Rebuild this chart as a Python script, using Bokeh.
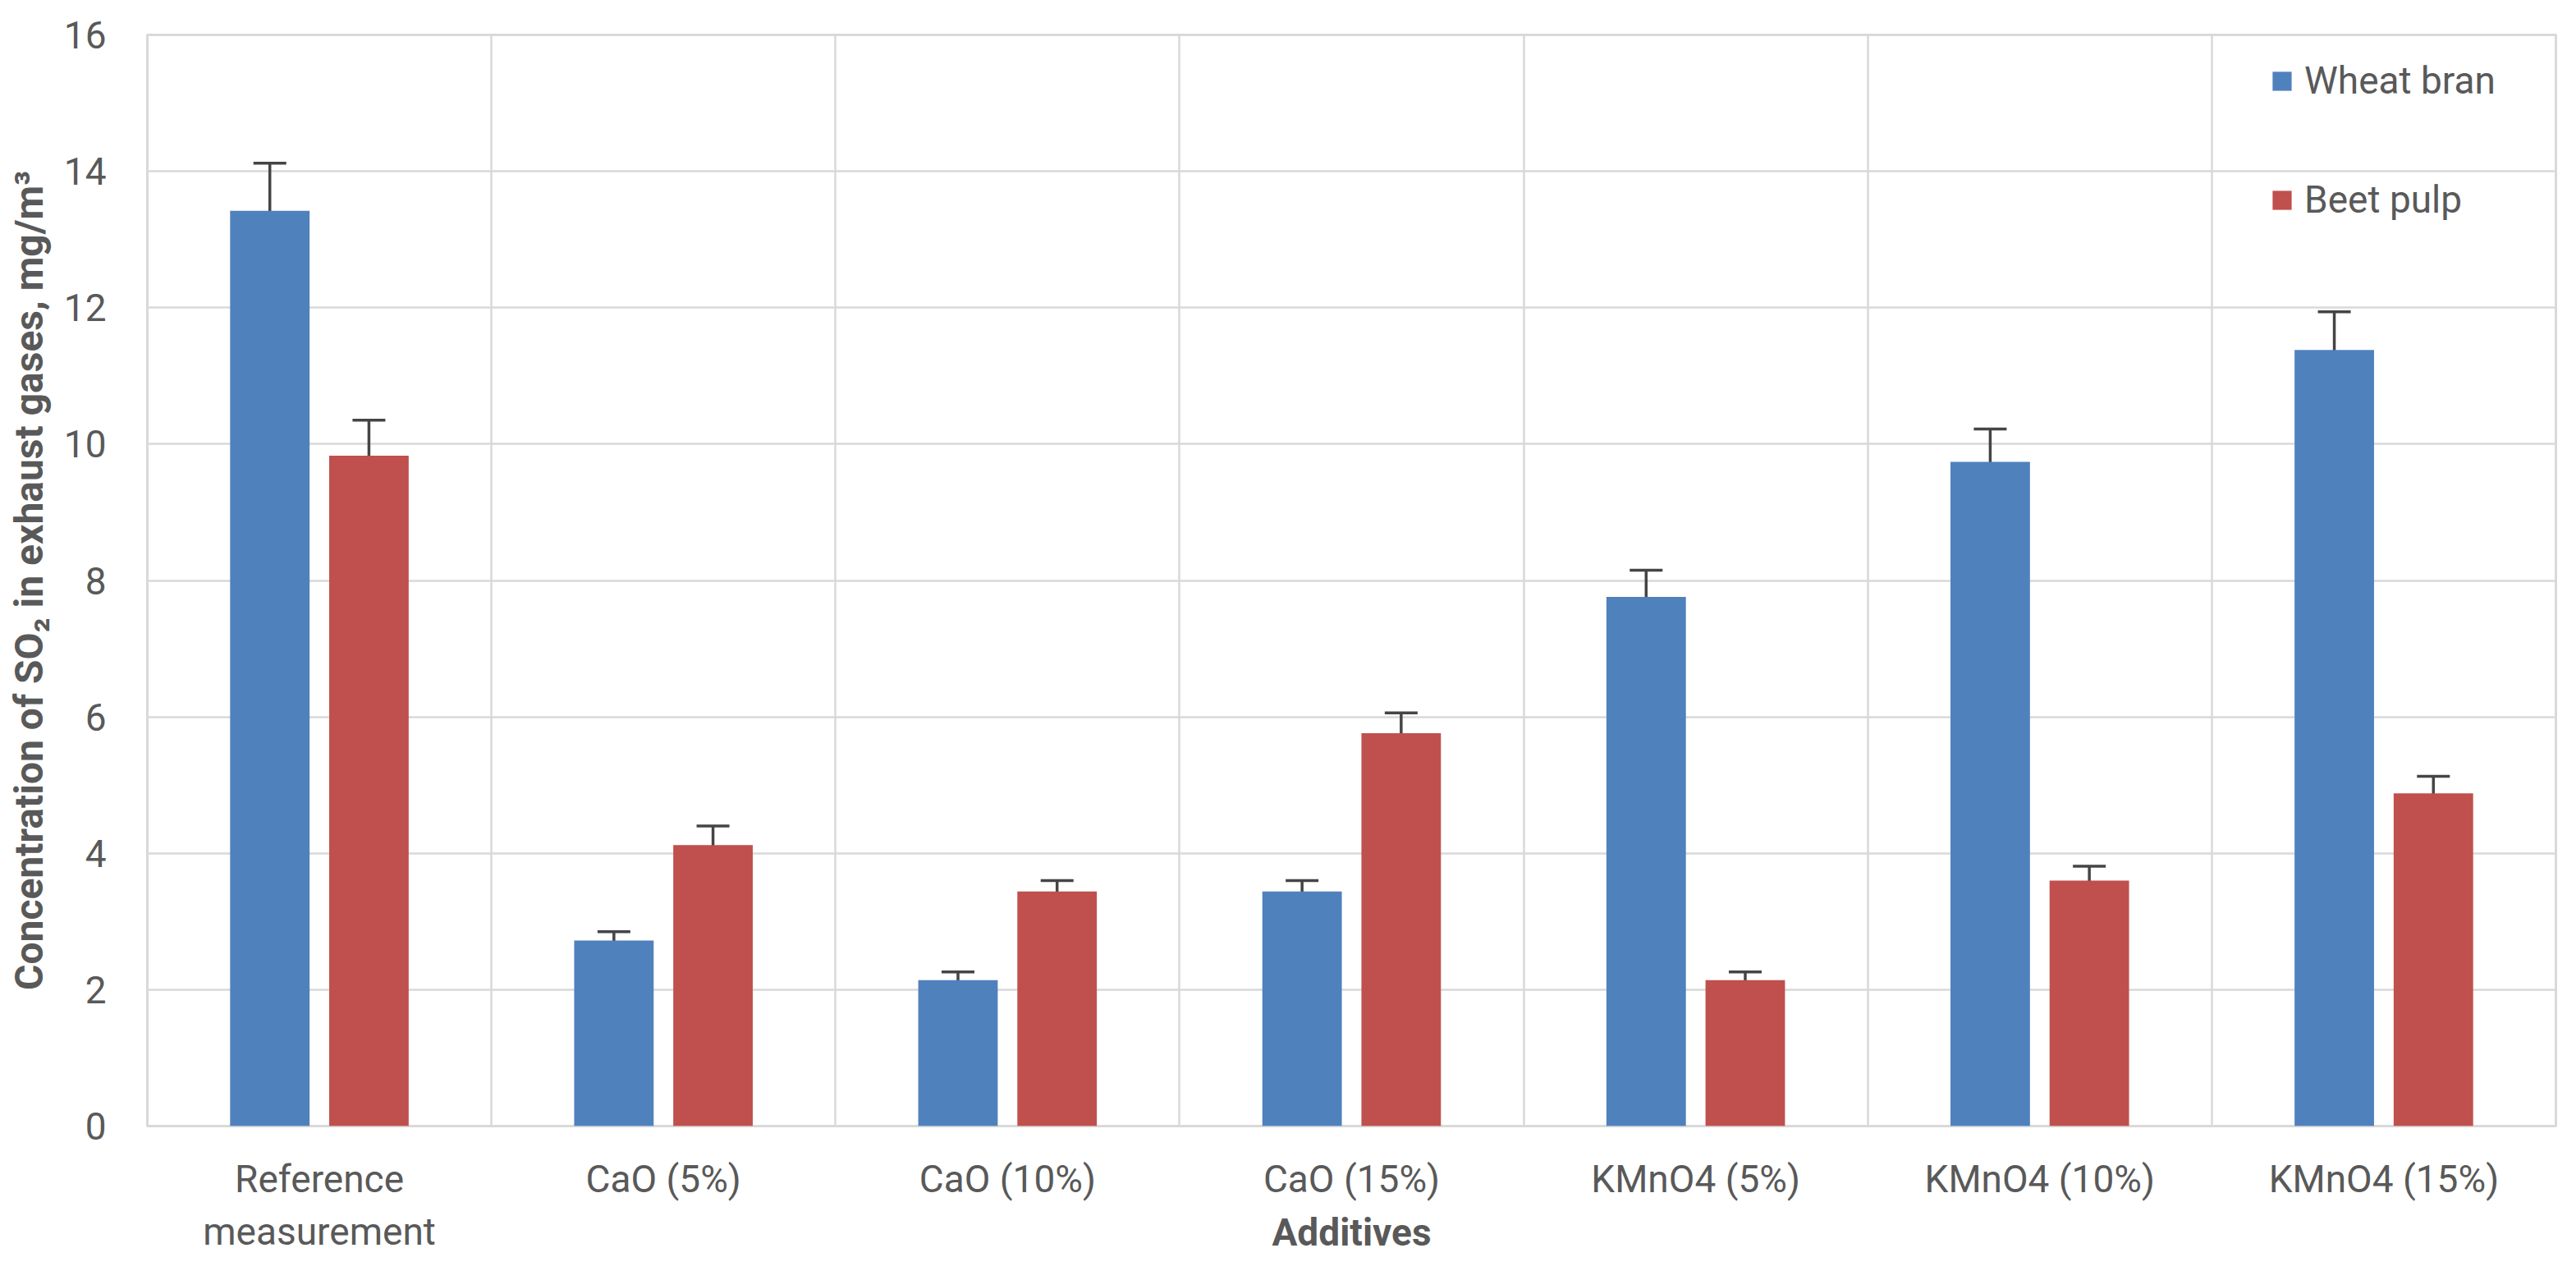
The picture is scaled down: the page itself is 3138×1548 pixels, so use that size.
import numpy as np
from bokeh.plotting import figure
from bokeh.models import (ColumnDataSource, Range1d, FixedTicker, Whisker, TeeHead,
                          Legend, LegendItem)
from bokeh.embed import file_html
from bokeh.resources import INLINE

categories = ["Reference\nmeasurement", "CaO (5%)", "CaO (10%)", "CaO (15%)",
              "KMnO4 (5%)", "KMnO4 (10%)", "KMnO4 (15%)"]
wheat_bran = [13.42, 2.72, 2.14, 3.44, 7.76, 9.74, 11.38]
wheat_err = [0.70, 0.13, 0.12, 0.16, 0.39, 0.48, 0.56]
beet_pulp = [9.83, 4.12, 3.44, 5.76, 2.14, 3.60, 4.88]
beet_err = [0.52, 0.28, 0.16, 0.30, 0.12, 0.21, 0.25]
y_ticks = [0, 2, 4, 6, 8, 10, 12, 14, 16]

WHEAT_COLOR = "#4F81BD"
BEET_COLOR = "#C0504D"
TEXT_COLOR = "#595959"
GRID_COLOR = "#D9D9D9"
ERR_COLOR = "#454545"
FONT = "Roboto"
FS = "46px"

n = len(categories)
idx = np.arange(n)
offset = 0.144
bw = 0.231

src_w = ColumnDataSource(dict(x=idx - offset, top=wheat_bran,
                              upper=np.array(wheat_bran) + np.array(wheat_err),
                              lower=np.array(wheat_bran) - np.array(wheat_err)))
src_b = ColumnDataSource(dict(x=idx + offset, top=beet_pulp,
                              upper=np.array(beet_pulp) + np.array(beet_err),
                              lower=np.array(beet_pulp) - np.array(beet_err)))

p = figure(width=3120, height=1532, output_backend="svg", toolbar_location=None,
           x_range=Range1d(-0.5, n - 0.5), y_range=Range1d(0, 16),
           min_border_left=179, min_border_top=42, min_border_right=7,
           min_border_bottom=161)
p.outline_line_color = GRID_COLOR
p.outline_line_width = 3

rw = p.vbar(x="x", top="top", width=bw, source=src_w, fill_color=WHEAT_COLOR,
            line_color=None)
rb = p.vbar(x="x", top="top", width=bw, source=src_b, fill_color=BEET_COLOR,
            line_color=None)

for src in (src_w, src_b):
    wk = Whisker(source=src, base="x", upper="upper", lower="lower",
                 line_color=ERR_COLOR, line_width=3.5,
                 upper_head=TeeHead(size=40, line_color=ERR_COLOR, line_width=3.5),
                 lower_head=TeeHead(size=40, line_color=ERR_COLOR, line_width=3.5))
    p.add_layout(wk)

# grids
p.ygrid.ticker = FixedTicker(ticks=y_ticks)
p.ygrid.grid_line_color = GRID_COLOR
p.ygrid.grid_line_width = 2.5
p.xgrid.ticker = FixedTicker(ticks=[i - 0.5 for i in range(n + 1)])
p.xgrid.grid_line_color = GRID_COLOR
p.xgrid.grid_line_width = 2.5

# axes
p.xaxis.ticker = FixedTicker(ticks=list(range(n)))
p.xaxis.major_label_overrides = {i: c for i, c in enumerate(categories)}
p.yaxis.ticker = FixedTicker(ticks=y_ticks)
for ax in (p.xaxis[0], p.yaxis[0]):
    ax.axis_line_color = None
    ax.major_tick_line_color = None
    ax.minor_tick_line_color = None
    ax.major_label_text_font = FONT
    ax.major_label_text_font_size = FS
    ax.major_label_text_color = TEXT_COLOR
    ax.axis_label_text_font = FONT
    ax.axis_label_text_font_style = "bold"
    ax.axis_label_text_color = TEXT_COLOR
p.xaxis.axis_label_text_font_size = "46px"
p.yaxis.axis_label_text_font_size = "48px"
p.xaxis.major_label_standoff = 31
p.yaxis.major_label_standoff = 44
p.xaxis.axis_label = "Additives"
p.xaxis.axis_label_standoff = -56
p.yaxis.axis_label = "Concentration of SO\u2082 in exhaust gases, mg/m\u00b3"
p.yaxis.axis_label_standoff = 11

legend = Legend(items=[LegendItem(label="Wheat bran", renderers=[rw]),
                       LegendItem(label="Beet pulp", renderers=[rb])],
                location=(2586, 1101), orientation="vertical")
legend.background_fill_alpha = 0
legend.border_line_color = None
legend.padding = 0
legend.margin = 0
legend.spacing = 91
legend.glyph_width = 29
legend.glyph_height = 29
legend.label_standoff = 13
legend.label_text_font = FONT
legend.label_text_font_size = FS
legend.label_text_color = TEXT_COLOR
p.add_layout(legend)

open("out.html", "w").write(file_html(p, INLINE))
